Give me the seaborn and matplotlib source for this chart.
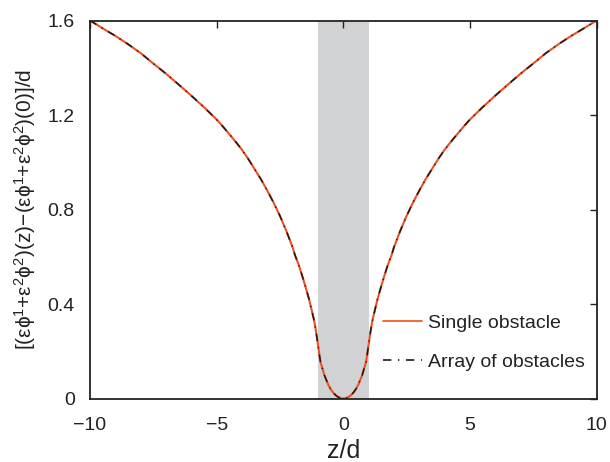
import numpy as np
import pandas as pd
import matplotlib
matplotlib.use("Agg")
import matplotlib.pyplot as plt
import seaborn as sns

# ---- data ----
z_vals = [-10, -9.5, -9, -8.5, -8, -7.5, -7, -6.5, -6, -5.5, -5, -4.75, -4.5, -4.25,
          -4, -3.75, -3.5, -3.25, -3, -2.75, -2.5, -2.25, -2, -1.9, -1.75, -1.6,
          -1.5, -1.35, -1.25, -1.15, -1.1, -1.05, -1.0, -0.95, -0.9, -0.75, -0.6,
          -0.5, -0.4, -0.3, -0.2, -0.1, 0,
          0.1, 0.2, 0.3, 0.4, 0.5, 0.6, 0.75, 0.9, 0.95, 1.0, 1.05, 1.1, 1.15,
          1.25, 1.35, 1.5, 1.6, 1.75, 1.9, 2, 2.25, 2.5, 2.75, 3, 3.25, 3.5,
          3.75, 4, 4.25, 4.5, 4.75, 5, 5.5, 6, 6.5, 7, 7.5, 8, 8.5, 9, 9.5, 10]
single_obstacle = [1.600, 1.567, 1.535, 1.500, 1.462, 1.418, 1.375, 1.329, 1.282,
                   1.233, 1.181, 1.151, 1.119, 1.087, 1.053, 1.014, 0.971, 0.928,
                   0.880, 0.829, 0.773, 0.710, 0.640, 0.605, 0.563, 0.512, 0.476,
                   0.420, 0.375, 0.330, 0.300, 0.265, 0.228, 0.190, 0.155, 0.100,
                   0.060, 0.040, 0.025, 0.014, 0.006, 0.0015, 0.000,
                   0.0015, 0.006, 0.014, 0.025, 0.040, 0.060, 0.100, 0.155, 0.190,
                   0.228, 0.265, 0.300, 0.330, 0.375, 0.420, 0.476, 0.512, 0.563,
                   0.605, 0.640, 0.710, 0.773, 0.829, 0.880, 0.928, 0.971, 1.014,
                   1.053, 1.087, 1.119, 1.151, 1.181, 1.233, 1.282, 1.329, 1.375,
                   1.418, 1.462, 1.500, 1.535, 1.567, 1.600]
array_of_obstacles = [1.600, 1.567, 1.535, 1.500, 1.462, 1.418, 1.375, 1.329, 1.282,
                      1.233, 1.181, 1.151, 1.119, 1.087, 1.053, 1.014, 0.971, 0.928,
                      0.880, 0.829, 0.773, 0.710, 0.640, 0.605, 0.563, 0.512, 0.476,
                      0.420, 0.375, 0.330, 0.300, 0.265, 0.228, 0.190, 0.155, 0.100,
                      0.060, 0.040, 0.025, 0.014, 0.006, 0.0015, 0.000,
                      0.0015, 0.006, 0.014, 0.025, 0.040, 0.060, 0.100, 0.155, 0.190,
                      0.228, 0.265, 0.300, 0.330, 0.375, 0.420, 0.476, 0.512, 0.563,
                      0.605, 0.640, 0.710, 0.773, 0.829, 0.880, 0.928, 0.971, 1.014,
                      1.053, 1.087, 1.119, 1.151, 1.181, 1.233, 1.282, 1.329, 1.375,
                      1.418, 1.462, 1.500, 1.535, 1.567, 1.600]
series_names = ["Single obstacle", "Array of obstacles"]
obstacle_span = [-1, 1]
x_ticks = [-10, -5, 0, 5, 10]
y_ticks = [0, 0.4, 0.8, 1.2, 1.6]
y_tick_labels = ["0", "0.4", "0.8", "1.2", "1.6"]

df = pd.DataFrame({
    "z": z_vals * 2,
    "v": single_obstacle + array_of_obstacles,
    "series": [series_names[0]] * len(z_vals) + [series_names[1]] * len(z_vals),
})

sns.set_theme(style="white")
plt.rcParams["font.family"] = ["Liberation Sans", "DejaVu Sans"]
plt.rcParams["mathtext.fontset"] = "custom"
plt.rcParams["mathtext.rm"] = "Liberation Sans"
plt.rcParams["mathtext.it"] = "Liberation Sans"
plt.rcParams["mathtext.default"] = "regular"

fig = plt.figure(figsize=(6.1, 4.62), dpi=100)
ax = fig.add_axes([0.1475, 0.1374, 0.8305, 0.8182])

ax.axvspan(obstacle_span[0], obstacle_span[1], color="#d1d2d4", lw=0, zorder=0)

sns.lineplot(data=df, x="z", y="v", hue="series", style="series",
             palette={series_names[0]: "#f04e23", series_names[1]: "#1a1a1a"},
             dashes={series_names[0]: "", series_names[1]: (5, 4, 0.8, 4)},
             linewidth=1.3, ax=ax, sort=False)
lines = ax.get_lines()
if len(lines) >= 2:
    lines[0].set_linewidth(1.5)
    lines[1].set_linewidth(1.1)

ax.set_xlim(-10, 10)
ax.set_ylim(0, 1.6)
ax.set_xticks(x_ticks)
ax.set_yticks(y_ticks)
ax.set_yticklabels(y_tick_labels)
ax.tick_params(direction="in", length=5, width=1, top=True, right=True,
               labelsize=14, colors="#222222")
ax.tick_params(axis="x", pad=13)
ax.tick_params(axis="y", pad=11)
for s in ax.spines.values():
    s.set_color("#222222")
    s.set_linewidth(1.3)

ax.set_xlabel("z/d", fontsize=18, color="#222222", labelpad=4)
ax.set_ylabel(r"$[(\varepsilon\phi^1{+}\varepsilon^2\phi^2)(z){-}(\varepsilon\phi^1{+}\varepsilon^2\phi^2)(0)]/d$",
              fontsize=15, color="#222222", labelpad=7)

leg = ax.legend(loc="upper left", bbox_to_anchor=(0.578, 0.222), frameon=False,
                fontsize=14, handlelength=2.0, labelspacing=1.1, handletextpad=0.35,
                borderaxespad=0, borderpad=0)
for t in leg.get_texts():
    t.set_color("#222222")
for h in leg.get_lines():
    h.set_linewidth(1.2)

fig.savefig("out.png", dpi=100)
